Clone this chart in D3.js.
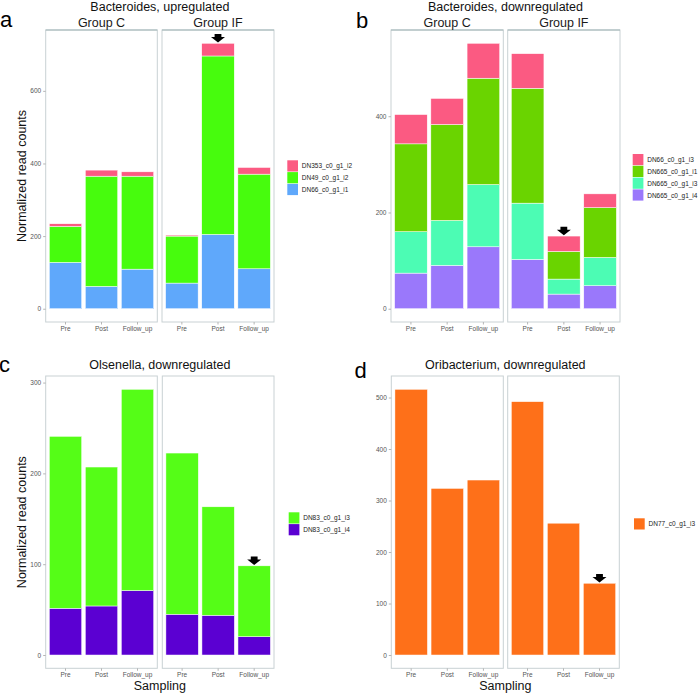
<!DOCTYPE html>
<html>
<head>
<meta charset="utf-8">
<script src="https://cdn.jsdelivr.net/npm/d3@7"></script>
<style>
  body { margin: 0; background: #fff; }
  text { font-family: "Liberation Sans", Arial, sans-serif; }
</style>
</head>
<body>
<script>
const samplings = ["Pre", "Post", "Follow_up"];
const groups = ["Group C", "Group IF"];

// values per bar: Group C Pre, Post, Follow_up, Group IF Pre, Post, Follow_up
// panel a, Bacteroides up (stack order bottom -> top)
const aKeys = ["DN66_c0_g1_i1", "DN49_c0_g1_i2", "DN353_c0_g1_i2"];
const aDN66 = [127.5, 61.5, 109, 70.6, 204.6, 110];
const aDN49 = [99.1, 303.5, 256, 129.4, 491.4, 260.6];
const aDN353 = [7.4, 16.7, 12, 2.8, 35, 18.4];
const aTicks = [0, 200, 400, 600];

// panel b, Bacteroides down
const bKeys = ["DN665_c0_g1_i4", "DN665_c0_g1_i3", "DN665_c0_g1_i1", "DN66_c0_g1_i3"];
const bDN665i4 = [74, 90, 128.7, 102.4, 30.4, 47.8];
const bDN665i3 = [86, 93.4, 129.3, 117, 31.2, 58.8];
const bDN665i1 = [182.6, 199.3, 221, 238.6, 57.4, 103.4];
const bDN66i3 = [60.9, 54.3, 72.6, 72, 32, 28.7];
const bTicks = [0, 200, 400];

// panel c, Olsenella down
const cKeys = ["DN83_c0_g1_i4", "DN83_c0_g1_i3"];
const cDN83i4 = [51.5, 54, 71, 44.9, 43.8, 20.2];
const cDN83i3 = [189.3, 153, 221.6, 177.5, 119.4, 78];
const cTicks = [0, 100, 200, 300];

// panel d, Oribacterium down
const dKeys = ["DN77_c0_g1_i3"];
const dDN77i3 = [516, 323.6, 339.8, 492, 256, 139.4];
const dTicks = [0, 100, 200, 300, 400, 500];

// arrows mark a bar: [group, sampling]
const arrowA = ["Group IF", "Post"];
const arrowB = ["Group IF", "Post"];
const arrowC = ["Group IF", "Follow_up"];
const arrowD = ["Group IF", "Follow_up"];

function rows(series) {
  const out = [];
  groups.forEach((g, gi) => samplings.forEach((s, si) => {
    const r = { group: g, sampling: s };
    series.forEach(([k, vals]) => r[k] = vals[gi * 3 + si]);
    out.push(r);
  }));
  return out;
}

const panels = [
  { letter: "a", letterPos: [0, 26.7], title: "Bacteroides, upregulated", strips: true, ylab: true, xlab: false,
    keys: aKeys, data: rows([[aKeys[0], aDN66], [aKeys[1], aDN49], [aKeys[2], aDN353]]),
    colors: ["#5fa8fb", "#47fc0d", "#fb5a82"], ticks: aTicks, arrow: arrowA,
    facetX: [[45.7, 157.3], [162, 274]], top: 30, bottom: 322, legX: 287.3, legY: 160.3 },
  { letter: "b", letterPos: [356, 28], title: "Bacteroides, downregulated", strips: true, ylab: false, xlab: false,
    keys: bKeys, data: rows([[bKeys[0], bDN665i4], [bKeys[1], bDN665i3], [bKeys[2], bDN665i1], [bKeys[3], bDN66i3]]),
    colors: ["#9a78fb", "#4cfcb4", "#6ad400", "#fb5a82"], ticks: bTicks, arrow: arrowB,
    facetX: [[391, 503.3], [507.7, 620]], top: 30, bottom: 322, legX: 632.7, legY: 154 },
  { letter: "c", letterPos: [-1, 372], title: "Olsenella, downregulated", strips: false, ylab: true, xlab: true,
    keys: cKeys, data: rows([[cKeys[0], cDN83i4], [cKeys[1], cDN83i3]]),
    colors: ["#5b00d2", "#55fd17"], ticks: cTicks, arrow: arrowC,
    facetX: [[45.7, 157.3], [162.3, 274]], top: 376, bottom: 668.3, legX: 288.7, legY: 512.3 },
  { letter: "d", letterPos: [354.5, 377.5], title: "Oribacterium, downregulated", strips: false, ylab: false, xlab: true,
    keys: dKeys, data: rows([[dKeys[0], dDN77i3]]),
    colors: ["#fe7019"], ticks: dTicks, arrow: arrowD,
    facetX: [[391.3, 503.3], [507.7, 619.3]], top: 376, bottom: 668.3, legX: 634, legY: 518.3 }
];

const svg = d3.select("body").append("svg")
  .attr("width", 700)
  .attr("height", 695);

panels.forEach(p => {
  const g = svg.append("g");
  const stacked = d3.stack().keys(p.keys)(p.data);
  const maxV = d3.max(stacked[stacked.length - 1], d => d[1]);
  const pad = maxV * 0.05;
  const y = d3.scaleLinear().domain([-pad, maxV + pad]).range([p.bottom, p.top]);
  const color = d3.scaleOrdinal().domain(p.keys).range(p.colors);
  const left = p.facetX[0][0], right = p.facetX[1][1];

  groups.forEach((grp, gi) => {
    const [x0, x1] = p.facetX[gi];
    const x = d3.scaleBand().domain(samplings).range([x0, x1])
      .paddingInner(0.1).paddingOuter(0.1);
    const rowsG = p.data.filter(d => d.group === grp);

    // bars
    stacked.forEach(layer => {
      g.append("g").selectAll("rect")
        .data(layer.filter(d => d.data.group === grp))
        .join("rect")
        .attr("x", d => x(d.data.sampling))
        .attr("width", x.bandwidth())
        .attr("y", d => y(d[1]))
        .attr("height", d => y(d[0]) - y(d[1]))
        .attr("fill", color(layer.key))
        .attr("stroke", "#fff")
        .attr("stroke-width", 0.5);
    });

    // panel border
    g.append("rect")
      .attr("x", x0).attr("y", p.top)
      .attr("width", x1 - x0).attr("height", p.bottom - p.top)
      .attr("fill", "none").attr("stroke", "#c9d1d4").attr("stroke-width", 1);
    if (p.strips) {
      g.append("line").attr("x1", x0).attr("x2", x1).attr("y1", p.top).attr("y2", p.top)
        .attr("stroke", "#9fb4b6").attr("stroke-width", 1);
      g.append("text")
        .attr("x", (x0 + x1) / 2).attr("y", p.top - 3.5)
        .attr("text-anchor", "middle").attr("font-size", 12.5).attr("fill", "#1a1a1a")
        .text(grp);
    }

    // x axis
    const xa = g.append("g").attr("transform", `translate(0,${p.bottom})`)
      .call(d3.axisBottom(x).tickSize(2.5).tickPadding(2));
    xa.select(".domain").remove();
    xa.selectAll("line").attr("stroke", "#b5b5b5");
    xa.selectAll("text").attr("font-size", 6.5).attr("fill", "#555")
      .attr("font-family", "Liberation Sans, Arial, sans-serif");

    // arrow
    if (p.arrow[0] === grp) {
      const r = rowsG.find(d => d.sampling === p.arrow[1]);
      const tot = d3.sum(p.keys, k => r[k]);
      const cx = x(r.sampling) + x.bandwidth() / 2;
      const ty = y(tot) - 0.8;
      g.append("path")
        .attr("d", `M${cx},${ty} l-7,-5.5 h3.6 v-3 h6.8 v3 h3.6 z`)
        .attr("fill", "#000");
    }
  });

  // y axis
  const ya = g.append("g").attr("transform", `translate(${left},0)`)
    .call(d3.axisLeft(y).tickValues(p.ticks).tickSize(2.5).tickPadding(2));
  ya.select(".domain").remove();
  ya.selectAll("line").attr("stroke", "#b5b5b5");
  ya.selectAll("text").attr("font-size", 6.5).attr("fill", "#555")
    .attr("font-family", "Liberation Sans, Arial, sans-serif");

  // titles
  const mid = (left + right) / 2;
  g.append("text")
    .attr("x", mid).attr("y", p.strips ? p.top - 19 : p.top - 7)
    .attr("text-anchor", "middle").attr("font-size", 12.5).attr("fill", "#111")
    .text(p.title);
  g.append("text")
    .attr("x", p.letterPos[0]).attr("y", p.letterPos[1])
    .attr("font-size", 22).attr("fill", "#000")
    .text(p.letter);
  if (p.ylab) {
    g.append("text")
      .attr("transform", `translate(${left - 20},${(p.top + p.bottom) / 2}) rotate(-90)`)
      .attr("text-anchor", "middle").attr("font-size", 12.5).attr("fill", "#111")
      .text("Normalized read counts");
  }
  if (p.xlab) {
    g.append("text")
      .attr("x", mid).attr("y", 690)
      .attr("text-anchor", "middle").attr("font-size", 12.5).attr("fill", "#111")
      .text("Sampling");
  }

  // legend (top-most series first)
  const legKeys = p.keys.slice().reverse();
  const leg = g.append("g").attr("transform", `translate(${p.legX},${p.legY})`);
  legKeys.forEach((k, i) => {
    leg.append("rect")
      .attr("x", 0).attr("y", i * 11.8)
      .attr("width", 10.7).attr("height", 11.2)
      .attr("fill", color(k));
    leg.append("text")
      .attr("x", 14.5).attr("y", i * 11.8 + 8.1)
      .attr("font-size", 6.5).attr("fill", "#222")
      .text(k);
  });
});
</script>
</body>
</html>
